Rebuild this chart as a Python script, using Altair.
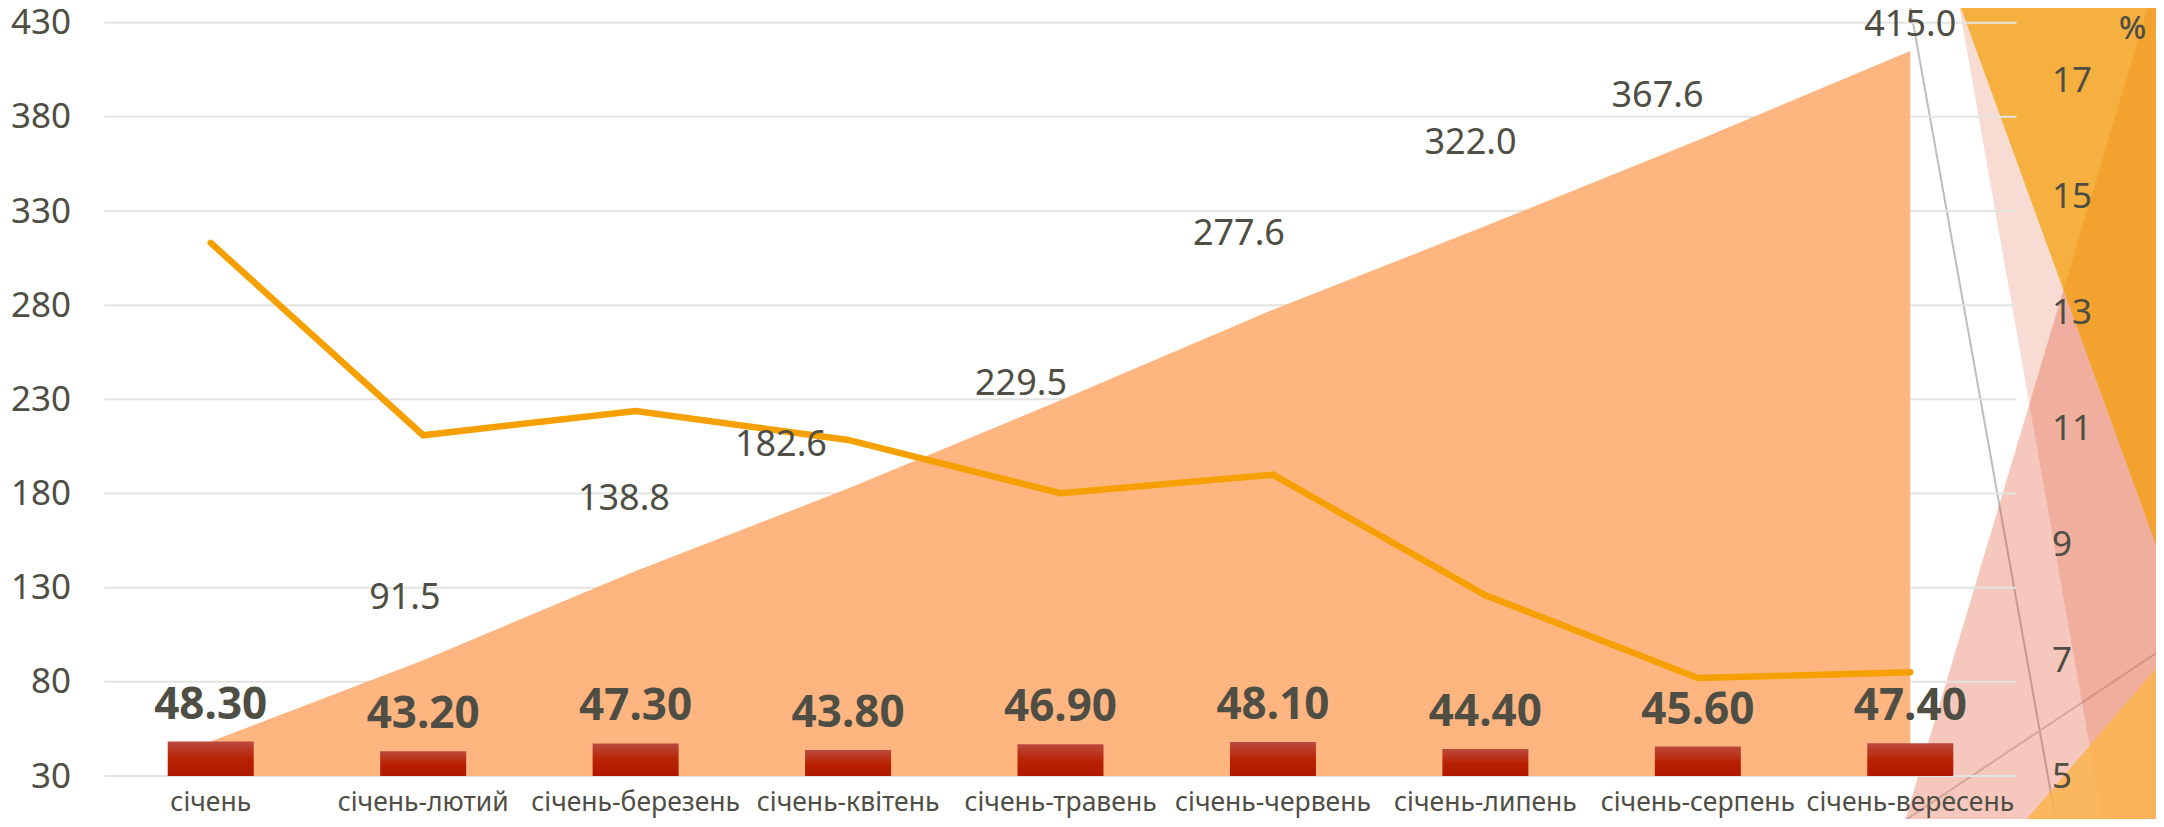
import altair as alt
import pandas as pd

months = ["січень", "січень-лютий", "січень-березень", "січень-квітень", "січень-травень",
          "січень-червень", "січень-липень", "січень-серпень", "січень-вересень"]
bar_values = [48.3, 43.2, 47.3, 43.8, 46.9, 48.1, 44.4, 45.6, 47.4]
area_values = [48.3, 91.5, 138.8, 182.6, 229.5, 277.6, 322.0, 367.6, 415.0]
line_values = [14.2, 10.88, 11.3, 10.8, 9.88, 10.2, 8.12, 6.69, 6.79]
grid_values = [30, 80, 130, 180, 230, 280, 330, 380, 430]
right_ticks = [5, 7, 9, 11, 13, 15, 17]

# area labels, placed freely in the reference: category units and primary-axis units
label_values = area_values[1:]
label_cat = [1.414, 2.445, 3.184, 4.314, 5.34, 6.43, 7.31, 8.5]
label_val = [125.6, 178.1, 206.8, 239.2, 318.8, 367.1, 392.1, 430.0]

# decorative background facets (reference pixels)
facet_b = dict(x=[1903, 2150, 2164], y=[827, 0, 0], y2=[827, 827, 827])
facet_c = dict(x=[1958, 2104, 2164], y=[0, 402, 567], y2=[0, 827, 827])
facet_a = dict(x=[1958, 2164], y=[0, 0], y2=[0, 567])
facet_d = dict(x=[2020, 2164], y=[827, 659], y2=[827, 827])
thin_1 = dict(x=[1909, 2057], y=[0, 827])
thin_2 = dict(x=[1895, 2164], y=[827, 648])

FONT = "Noto Sans"
TEXT = "#4F4E45"
W, H = 1912, 753.3

px = alt.Scale(domain=[0, 2164], range=[-104.5, 2059.5], nice=False, zero=False)
py = alt.Scale(domain=[0, 827], range=[-22.7, 804.3], nice=False, zero=False)


def facet(d, color, opacity):
    return alt.Chart(pd.DataFrame(d)).mark_area(color=color, opacity=opacity, line=False).encode(
        x=alt.X("x:Q", scale=px, axis=None),
        y=alt.Y("y:Q", scale=py, axis=None),
        y2="y2:Q",
    )


def thin(d, color):
    return alt.Chart(pd.DataFrame(d)).mark_line(color=color, strokeWidth=2).encode(
        x=alt.X("x:Q", scale=px, axis=None),
        y=alt.Y("y:Q", scale=py, axis=None),
    )


bg = alt.layer(
    thin(thin_1, "#BDBDBD"), thin(thin_2, "#D0D0D0"),
    facet(facet_b, "#E14823", 0.3),
    facet(facet_c, "#DC4B23", 0.2),
    facet(facet_a, "#F29600", 0.75),
    facet(facet_d, "#FCB44C", 0.85),
)

df = pd.DataFrame({"m": months, "bar": bar_values, "area": area_values, "line": line_values})
xs = alt.Scale(domain=months, paddingInner=0, paddingOuter=0)
x_axis = alt.Axis(title=None, domain=False, ticks=False, grid=False, labelAngle=0, labelFont=FONT,
                  labelFontSize=26.5, labelColor=TEXT, labelPadding=13, labelOverlap=False, labelLimit=0,
                  zindex=1)
y_scale = alt.Scale(domain=[30, 430], nice=False, zero=False)
y_axis = alt.Axis(title=None, values=grid_values, domain=False, ticks=False, grid=False,
                  labelFont=FONT, labelFontSize=35, labelColor=TEXT,
                  labelPadding=34, labelFlush=False, zindex=1)

base = alt.Chart(df)
grid = alt.Chart(pd.DataFrame({"g": grid_values})).mark_rule(color="#E3E3E0", strokeWidth=2).encode(
    y=alt.Y("g:Q", scale=y_scale, axis=y_axis),
)
area = base.mark_area(color="#FFB57F", opacity=1).encode(
    x=alt.X("m:N", sort=months, scale=xs, axis=x_axis),
    y=alt.Y("area:Q", scale=y_scale, axis=y_axis),
    y2=alt.datum(30),
)
bars = base.mark_bar(
    size=86,
    color=alt.Gradient(
        gradient="linear", x1=0, x2=0, y1=0, y2=1,
        stops=[alt.GradientStop(color="#BC4A3E", offset=0),
               alt.GradientStop(color="#B82000", offset=0.55),
               alt.GradientStop(color="#AE1900", offset=1)],
    ),
).encode(
    x=alt.X("m:N", sort=months, scale=xs, axis=x_axis),
    y=alt.Y("bar:Q", scale=y_scale, axis=y_axis),
    y2=alt.datum(30),
)
bar_text = base.mark_text(font=FONT, fontSize=44, fontWeight="bold", color=TEXT, baseline="middle", dy=-36).encode(
    x=alt.X("m:N", sort=months, scale=xs, axis=x_axis),
    y=alt.Y("bar:Q", scale=y_scale, axis=y_axis),
    text=alt.Text("bar:Q", format=".2f"),
)
primary = alt.layer(grid, area, bars, bar_text)

line = base.mark_line(color="#F6A000", strokeWidth=6.5, strokeCap="round", strokeJoin="miter").encode(
    x=alt.X("m:N", sort=months, scale=xs, axis=None),
    y=alt.Y("line:Q", scale=alt.Scale(domain=[5, 18], nice=False, zero=False),
            axis=alt.Axis(orient="right", values=right_ticks, domain=False, ticks=False,
                          grid=False, labelFont=FONT, labelFontSize=35, labelColor=TEXT, labelPadding=35,
                          labelFlush=False, title="%", titleAngle=0, titleX=115.5, titleY=5.5,
                          titleFont=FONT, titleFontSize=32, titleFontWeight=500, titleColor=TEXT,
                          titleBaseline="middle", titleAlign="center", zindex=1)),
)

labels = alt.Chart(pd.DataFrame({"c": label_cat, "v": label_val, "t": label_values})).mark_text(
    font=FONT, fontSize=36, color=TEXT, baseline="middle", dy=2).encode(
    x=alt.X("c:Q", scale=alt.Scale(domain=[0, 9], nice=False, zero=False), axis=None),
    y=alt.Y("v:Q", scale=y_scale, axis=None),
    text=alt.Text("t:Q", format=".1f"),
)

chart = alt.layer(bg, primary, line, labels).resolve_scale(x="independent", y="independent").properties(
    width=W, height=H,
    autosize=alt.AutoSizeParams(type="none"),
    padding={"left": 96.5, "top": 14.7, "right": 139.5, "bottom": 43},
    background="white",
).configure_view(stroke=None)

chart.save("out.html", embed_options={"renderer": "svg", "actions": False})
